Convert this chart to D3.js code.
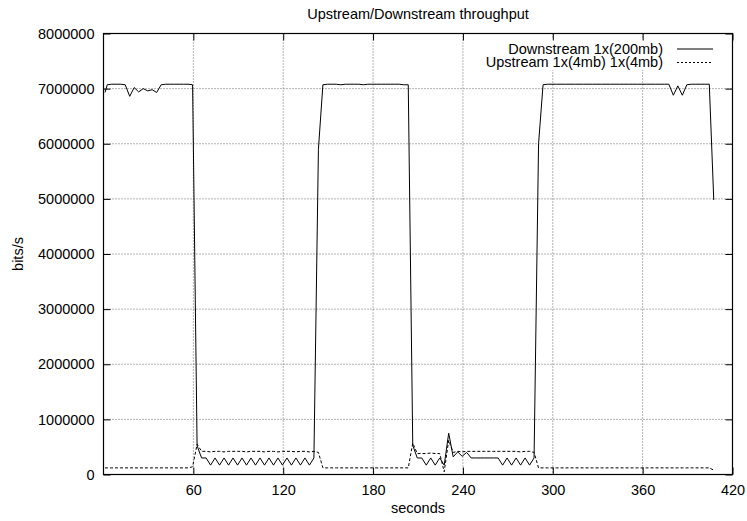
<html>
<head>
<style>
  body { margin: 0; background: #fff; }
  svg text { font-family: "Liberation Sans", Arial, Helvetica, sans-serif; font-size: 14.5px; fill: #000; }
  .grid line { stroke: #666; stroke-width: 1; stroke-dasharray: 1,2; }
</style>
</head>
<body>
<script src="https://cdn.jsdelivr.net/npm/d3@7"></script>
<script>
// sample times (s)
var seconds = [1,
  2.5,5.5,8.5,11.5,14.5,17.5,20.5,23.5,26.5,29.5,
  32.5,35.5,38.5,41.5,44.5,47.5,50.5,53.5,56.5,59.5,
  62.5,65.5,68.5,71.5,74.5,77.5,80.5,83.5,86.5,89.5,
  92.5,95.5,98.5,101.5,104.5,107.5,110.5,113.5,116.5,119.5,
  122.5,125.5,128.5,131.5,134.5,137.5,140.5,143.5,146.5,149.5,
  152.5,155.5,158.5,161.5,164.5,167.5,170.5,173.5,176.5,179.5,
  182.5,185.5,188.5,191.5,194.5,197.5,200.5,203.5,206.5,209.5,
  212.5,215.5,218.5,221.5,224.5,227.5,230.5,233.5,236.5,239.5,
  242.5,245.5,248.5,251.5,254.5,257.5,260.5,263.5,266.5,269.5,
  272.5,275.5,278.5,281.5,284.5,287.5,290.5,293.5,296.5,299.5,
  302.5,305.5,308.5,311.5,314.5,317.5,320.5,323.5,326.5,329.5,
  332.5,335.5,338.5,341.5,344.5,347.5,350.5,353.5,356.5,359.5,
  362.5,365.5,368.5,371.5,374.5,377.5,380.5,383.5,386.5,389.5,
  392.5,395.5,398.5,401.5,404.5,407.5];

// Mbit/s
var downstream = [6.93,
  7.07,7.08,7.08,7.08,7.07,6.86,7.02,6.94,7.00,6.96,
  6.98,6.93,7.07,7.08,7.08,7.08,7.08,7.08,7.08,7.07,
  0.52,0.30,0.30,0.17,0.30,0.17,0.30,0.17,0.30,0.17,
  0.30,0.17,0.30,0.17,0.30,0.17,0.30,0.17,0.30,0.17,
  0.30,0.17,0.30,0.17,0.30,0.17,0.30,5.90,7.07,7.08,
  7.08,7.08,7.07,7.08,7.08,7.08,7.08,7.07,7.08,7.08,
  7.08,7.08,7.08,7.08,7.08,7.08,7.07,7.07,0.53,0.30,
  0.30,0.17,0.30,0.17,0.30,0.17,0.75,0.32,0.41,0.33,
  0.40,0.30,0.30,0.30,0.30,0.30,0.30,0.30,0.17,0.30,
  0.17,0.30,0.17,0.30,0.17,0.30,6.00,7.07,7.08,7.08,
  7.08,7.08,7.08,7.08,7.08,7.08,7.08,7.08,7.08,7.08,
  7.08,7.08,7.08,7.08,7.08,7.08,7.08,7.08,7.08,7.08,
  7.08,7.08,7.08,7.08,7.08,7.08,6.88,7.05,6.88,7.07,
  7.08,7.08,7.08,7.08,7.08,4.98];

var upstream = [0.12,
  0.12,0.12,0.12,0.12,0.12,0.12,0.12,0.12,0.12,0.12,
  0.12,0.12,0.12,0.12,0.12,0.12,0.12,0.12,0.12,0.14,
  0.55,0.42,0.42,0.41,0.42,0.42,0.41,0.42,0.42,0.42,
  0.42,0.41,0.42,0.42,0.42,0.41,0.42,0.42,0.41,0.42,
  0.42,0.42,0.41,0.42,0.42,0.41,0.42,0.40,0.12,0.12,
  0.12,0.12,0.12,0.12,0.12,0.12,0.12,0.12,0.12,0.12,
  0.12,0.12,0.12,0.12,0.12,0.12,0.12,0.12,0.57,0.38,
  0.38,0.38,0.39,0.38,0.38,0.05,0.62,0.40,0.42,0.41,
  0.42,0.42,0.42,0.42,0.42,0.42,0.42,0.42,0.42,0.42,
  0.42,0.42,0.41,0.42,0.42,0.40,0.12,0.12,0.12,0.12,
  0.12,0.12,0.12,0.12,0.12,0.12,0.12,0.12,0.12,0.12,
  0.12,0.12,0.12,0.12,0.12,0.12,0.12,0.12,0.12,0.12,
  0.12,0.12,0.12,0.12,0.12,0.12,0.12,0.12,0.12,0.12,
  0.12,0.12,0.12,0.12,0.12,0.08];

var xTicks = [60, 120, 180, 240, 300, 360, 420];
var yTicks = [0, 1000000, 2000000, 3000000, 4000000, 5000000, 6000000, 7000000, 8000000];
var seriesNames = ["Downstream 1x(200mb)", "Upstream 1x(4mb) 1x(4mb)"];

var width = 747, height = 521;
var mLeft = 103.5, mRight = 732.5, mTop = 33.5, mBottom = 474.5;

var svg = d3.select("body").append("svg")
  .attr("width", width)
  .attr("height", height);

var x = d3.scaleLinear().domain([0, 420]).range([mLeft, mRight]);
var y = d3.scaleLinear().domain([0, 8000000]).range([mBottom, mTop]);

// grid
var grid = svg.append("g").attr("class", "grid");
grid.selectAll(".vg")
  .data(xTicks.filter(function(d) { return d < 420; }))
  .enter().append("line")
  .attr("x1", function(d) { return x(d); })
  .attr("x2", function(d) { return x(d); })
  .attr("y1", mTop).attr("y2", mBottom);
grid.selectAll(".hg")
  .data(yTicks.filter(function(d) { return d > 0 && d < 8000000; }))
  .enter().append("line")
  .attr("x1", mLeft).attr("x2", mRight)
  .attr("y1", function(d) { return y(d); })
  .attr("y2", function(d) { return y(d); });

// key background
svg.append("rect")
  .attr("x", 484).attr("y", 39)
  .attr("width", 247).attr("height", 31)
  .attr("fill", "#fff");

// axes, ticks pointing inward
svg.append("g")
  .attr("transform", "translate(" + mLeft + ",0)")
  .call(d3.axisLeft(y).tickValues(yTicks).tickSize(-7).tickPadding(9).tickFormat(d3.format("d")));
svg.append("g")
  .attr("transform", "translate(" + mRight + ",0)")
  .call(d3.axisRight(y).tickValues(yTicks).tickSize(-7).tickFormat(""));
svg.append("g")
  .attr("transform", "translate(0," + mBottom + ")")
  .call(d3.axisBottom(x).tickValues(xTicks).tickSize(-7).tickPadding(10.5));
svg.append("g")
  .attr("transform", "translate(0," + mTop + ")")
  .call(d3.axisTop(x).tickValues(xTicks).tickSize(-7).tickFormat(""));

svg.selectAll(".domain").remove();
svg.selectAll(".tick line").attr("stroke", "#000");
svg.selectAll(".tick text").style("font-size", "14.5px").attr("fill", "#000")
  .style("font-family", "\"Liberation Sans\", Arial, sans-serif");

svg.append("rect")
  .attr("x", mLeft).attr("y", mTop)
  .attr("width", mRight - mLeft).attr("height", mBottom - mTop)
  .attr("fill", "none")
  .attr("stroke", "#000")
  .attr("stroke-width", 1.2);

// data
var down = seconds.map(function(t, i) { return [t, downstream[i] * 1e6]; });
var up = seconds.map(function(t, i) { return [t, upstream[i] * 1e6]; });

var line = d3.line()
  .x(function(d) { return x(d[0]); })
  .y(function(d) { return y(d[1]); });

svg.append("path")
  .datum(up)
  .attr("d", line)
  .attr("fill", "none")
  .attr("stroke", "#000")
  .attr("stroke-width", 1)
  .attr("stroke-dasharray", "3,2");

svg.append("path")
  .datum(down)
  .attr("d", line)
  .attr("fill", "none")
  .attr("stroke", "#000")
  .attr("stroke-width", 1);

// key
var key = svg.append("g");
key.append("text").attr("x", 663).attr("y", 53.5).attr("text-anchor", "end").text(seriesNames[0]);
key.append("text").attr("x", 663).attr("y", 67).attr("text-anchor", "end").text(seriesNames[1]);
key.append("line").attr("x1", 677).attr("x2", 713).attr("y1", 49).attr("y2", 49)
  .attr("stroke", "#000");
key.append("line").attr("x1", 677).attr("x2", 713).attr("y1", 62.5).attr("y2", 62.5)
  .attr("stroke", "#000").attr("stroke-dasharray", "2,2");

// titles
svg.append("text")
  .attr("x", (mLeft + mRight) / 2).attr("y", 19)
  .attr("text-anchor", "middle")
  .text("Upstream/Downstream throughput");
svg.append("text")
  .attr("x", (mLeft + mRight) / 2).attr("y", 513)
  .attr("text-anchor", "middle")
  .text("seconds");
svg.append("text")
  .attr("transform", "translate(23," + ((mTop + mBottom) / 2) + ") rotate(-90)")
  .attr("text-anchor", "middle")
  .text("bits/s");
</script>
</body>
</html>
